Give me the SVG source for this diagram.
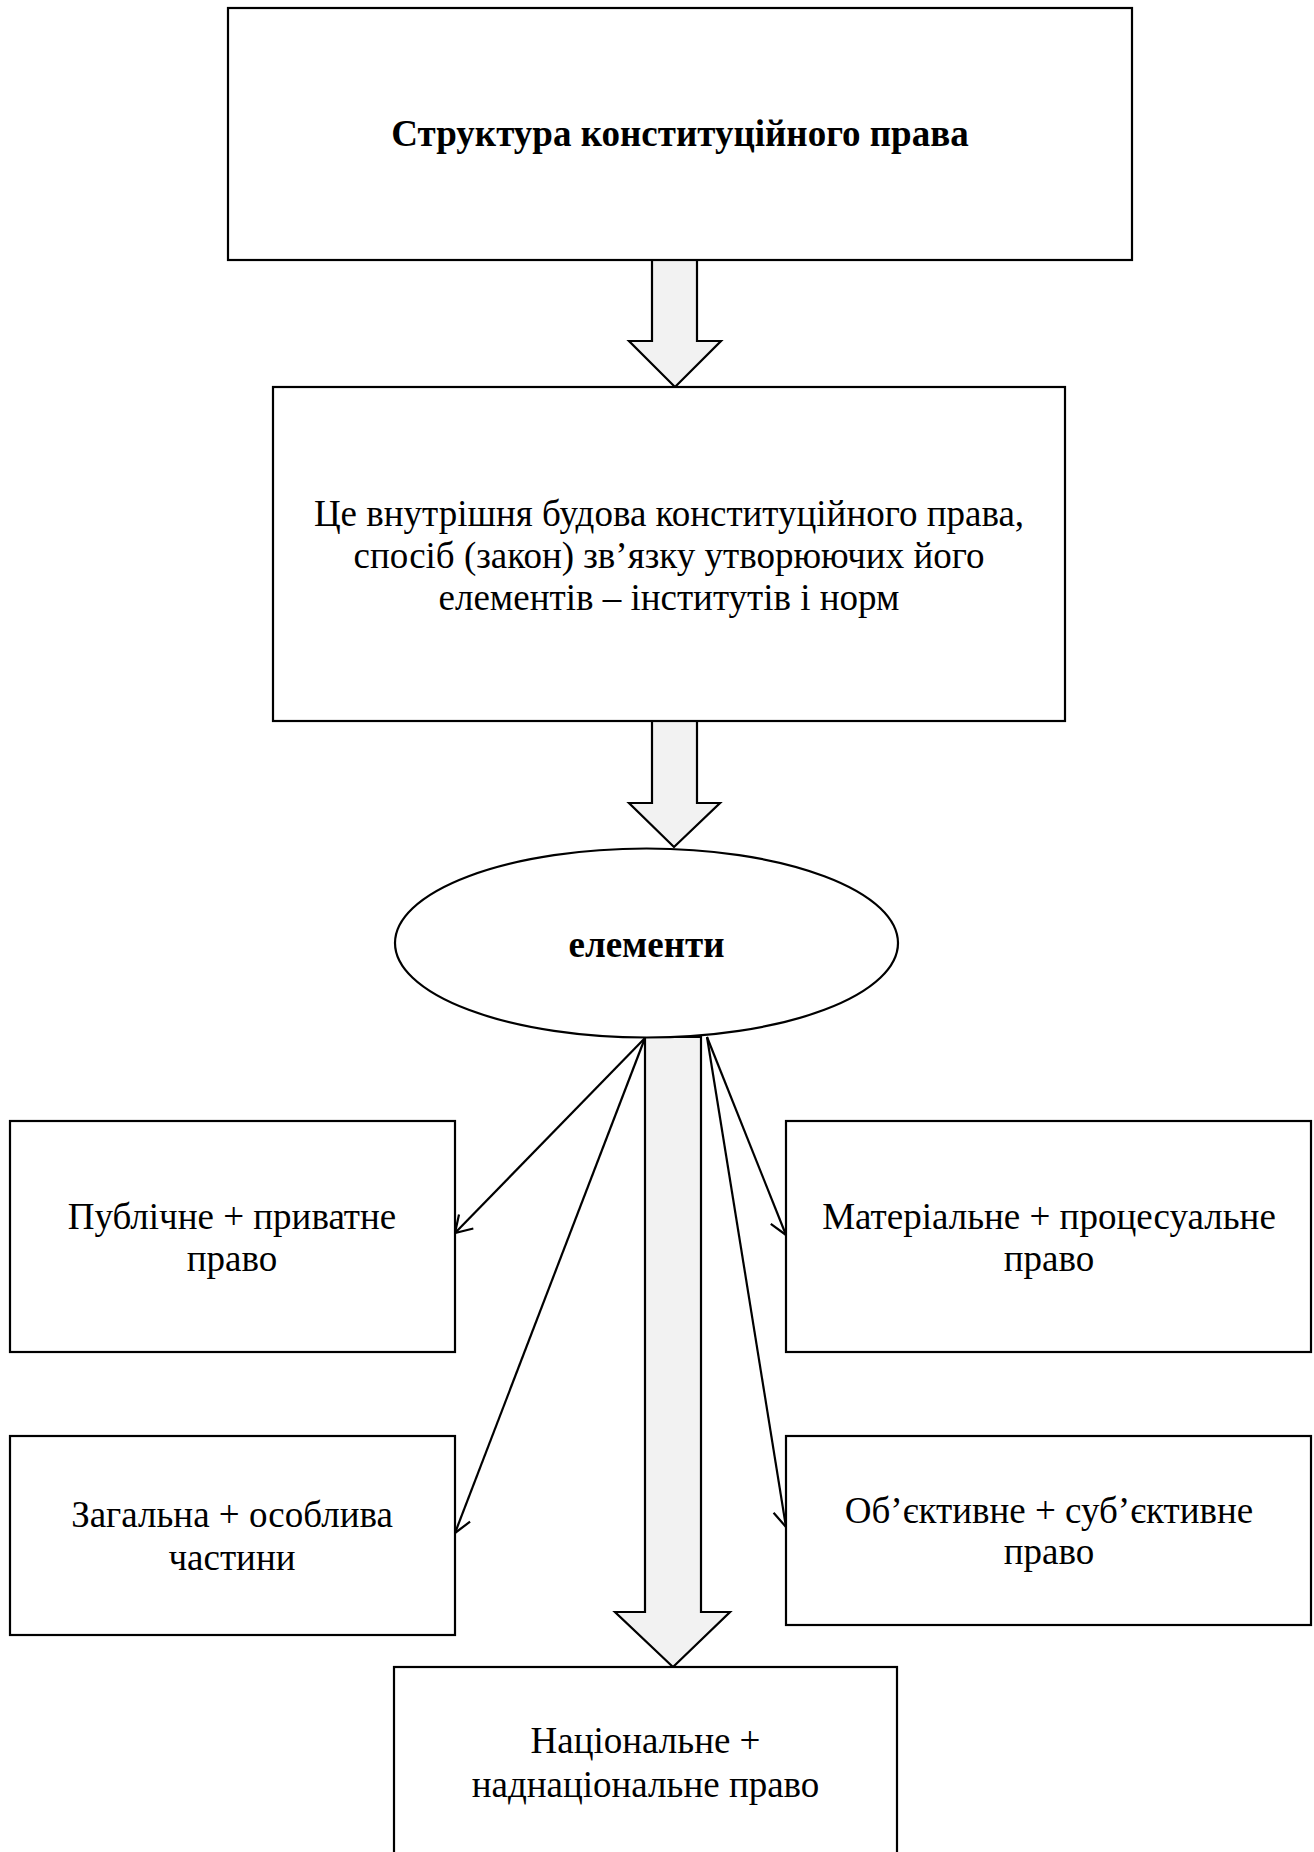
<svg xmlns="http://www.w3.org/2000/svg" width="1314" height="1852" viewBox="0 0 1314 1852">
<style>
.box{fill:#fff;stroke:#000;stroke-width:2.2}
.blk{fill:#f2f2f2;stroke:#000;stroke-width:2.2;stroke-linejoin:miter}
.ln{fill:none;stroke:#000;stroke-width:2.2}
text{font-family:"Liberation Serif","Times New Roman",serif;font-size:37px;fill:#000;text-anchor:middle}
.b{font-weight:bold}
</style>
<defs>
<marker id="open" markerUnits="userSpaceOnUse" markerWidth="40" markerHeight="40" refX="0" refY="0" viewBox="-20 -20 40 40" orient="auto" overflow="visible">
<path d="M-16,-10 L0,0 L-16,10" fill="none" stroke="#000" stroke-width="2.2"/>
</marker>
</defs>
<rect width="1314" height="1852" fill="#fff"/>
<g id="connectors">
<polygon class="blk" points="652,260 697,260 697,341 721,341 675,387 629,341 652,341"/>
<polygon class="blk" points="652,721 697,721 697,803 720,803 674,847 629,803 652,803"/>
<polygon class="blk" points="645,1037 701,1037 701,1612 730,1612 673,1667 615,1612 645,1612"/>
<line class="ln" x1="645" y1="1038" x2="455" y2="1233" marker-end="url(#open)"/>
<line class="ln" x1="645" y1="1038" x2="455" y2="1533" marker-end="url(#open)"/>
<line class="ln" x1="707" y1="1037" x2="786" y2="1235" marker-end="url(#open)"/>
<line class="ln" x1="707" y1="1037" x2="786" y2="1527" marker-end="url(#open)"/>
</g>
<g id="n-title">
<rect class="box" x="228" y="8" width="904" height="252"/>
<text class="b" x="680" y="146">Структура конституційного права</text>
</g>
<g id="n-def">
<rect class="box" x="273" y="387" width="792" height="334"/>
<text x="669" y="526">Це внутрішня будова конституційного права,</text>
<text x="669" y="568">спосіб (закон) зв’язку утворюючих його</text>
<text x="669" y="610">елементів – інститутів і норм</text>
</g>
<g id="n-elements">
<ellipse class="box" cx="646.5" cy="943" rx="251.5" ry="94.5"/>
<text class="b" x="646.5" y="957">елементи</text>
</g>
<g id="n-public">
<rect class="box" x="10" y="1121" width="445" height="231"/>
<text x="232" y="1229">Публічне + приватне</text>
<text x="232" y="1271">право</text>
</g>
<g id="n-general">
<rect class="box" x="10" y="1436" width="445" height="199"/>
<text x="232" y="1527">Загальна + особлива</text>
<text x="232" y="1570">частини</text>
</g>
<g id="n-material">
<rect class="box" x="786" y="1121" width="525" height="231"/>
<text x="1049" y="1229">Матеріальне + процесуальне</text>
<text x="1049" y="1271">право</text>
</g>
<g id="n-objective">
<rect class="box" x="786" y="1436" width="525" height="189"/>
<text x="1049" y="1523">Об’єктивне + суб’єктивне</text>
<text x="1049" y="1564">право</text>
</g>
<g id="n-national">
<rect class="box" x="394" y="1667" width="503" height="200"/>
<text x="645.5" y="1753">Національне +</text>
<text x="645.5" y="1797">наднаціональне право</text>
</g>
</svg>
